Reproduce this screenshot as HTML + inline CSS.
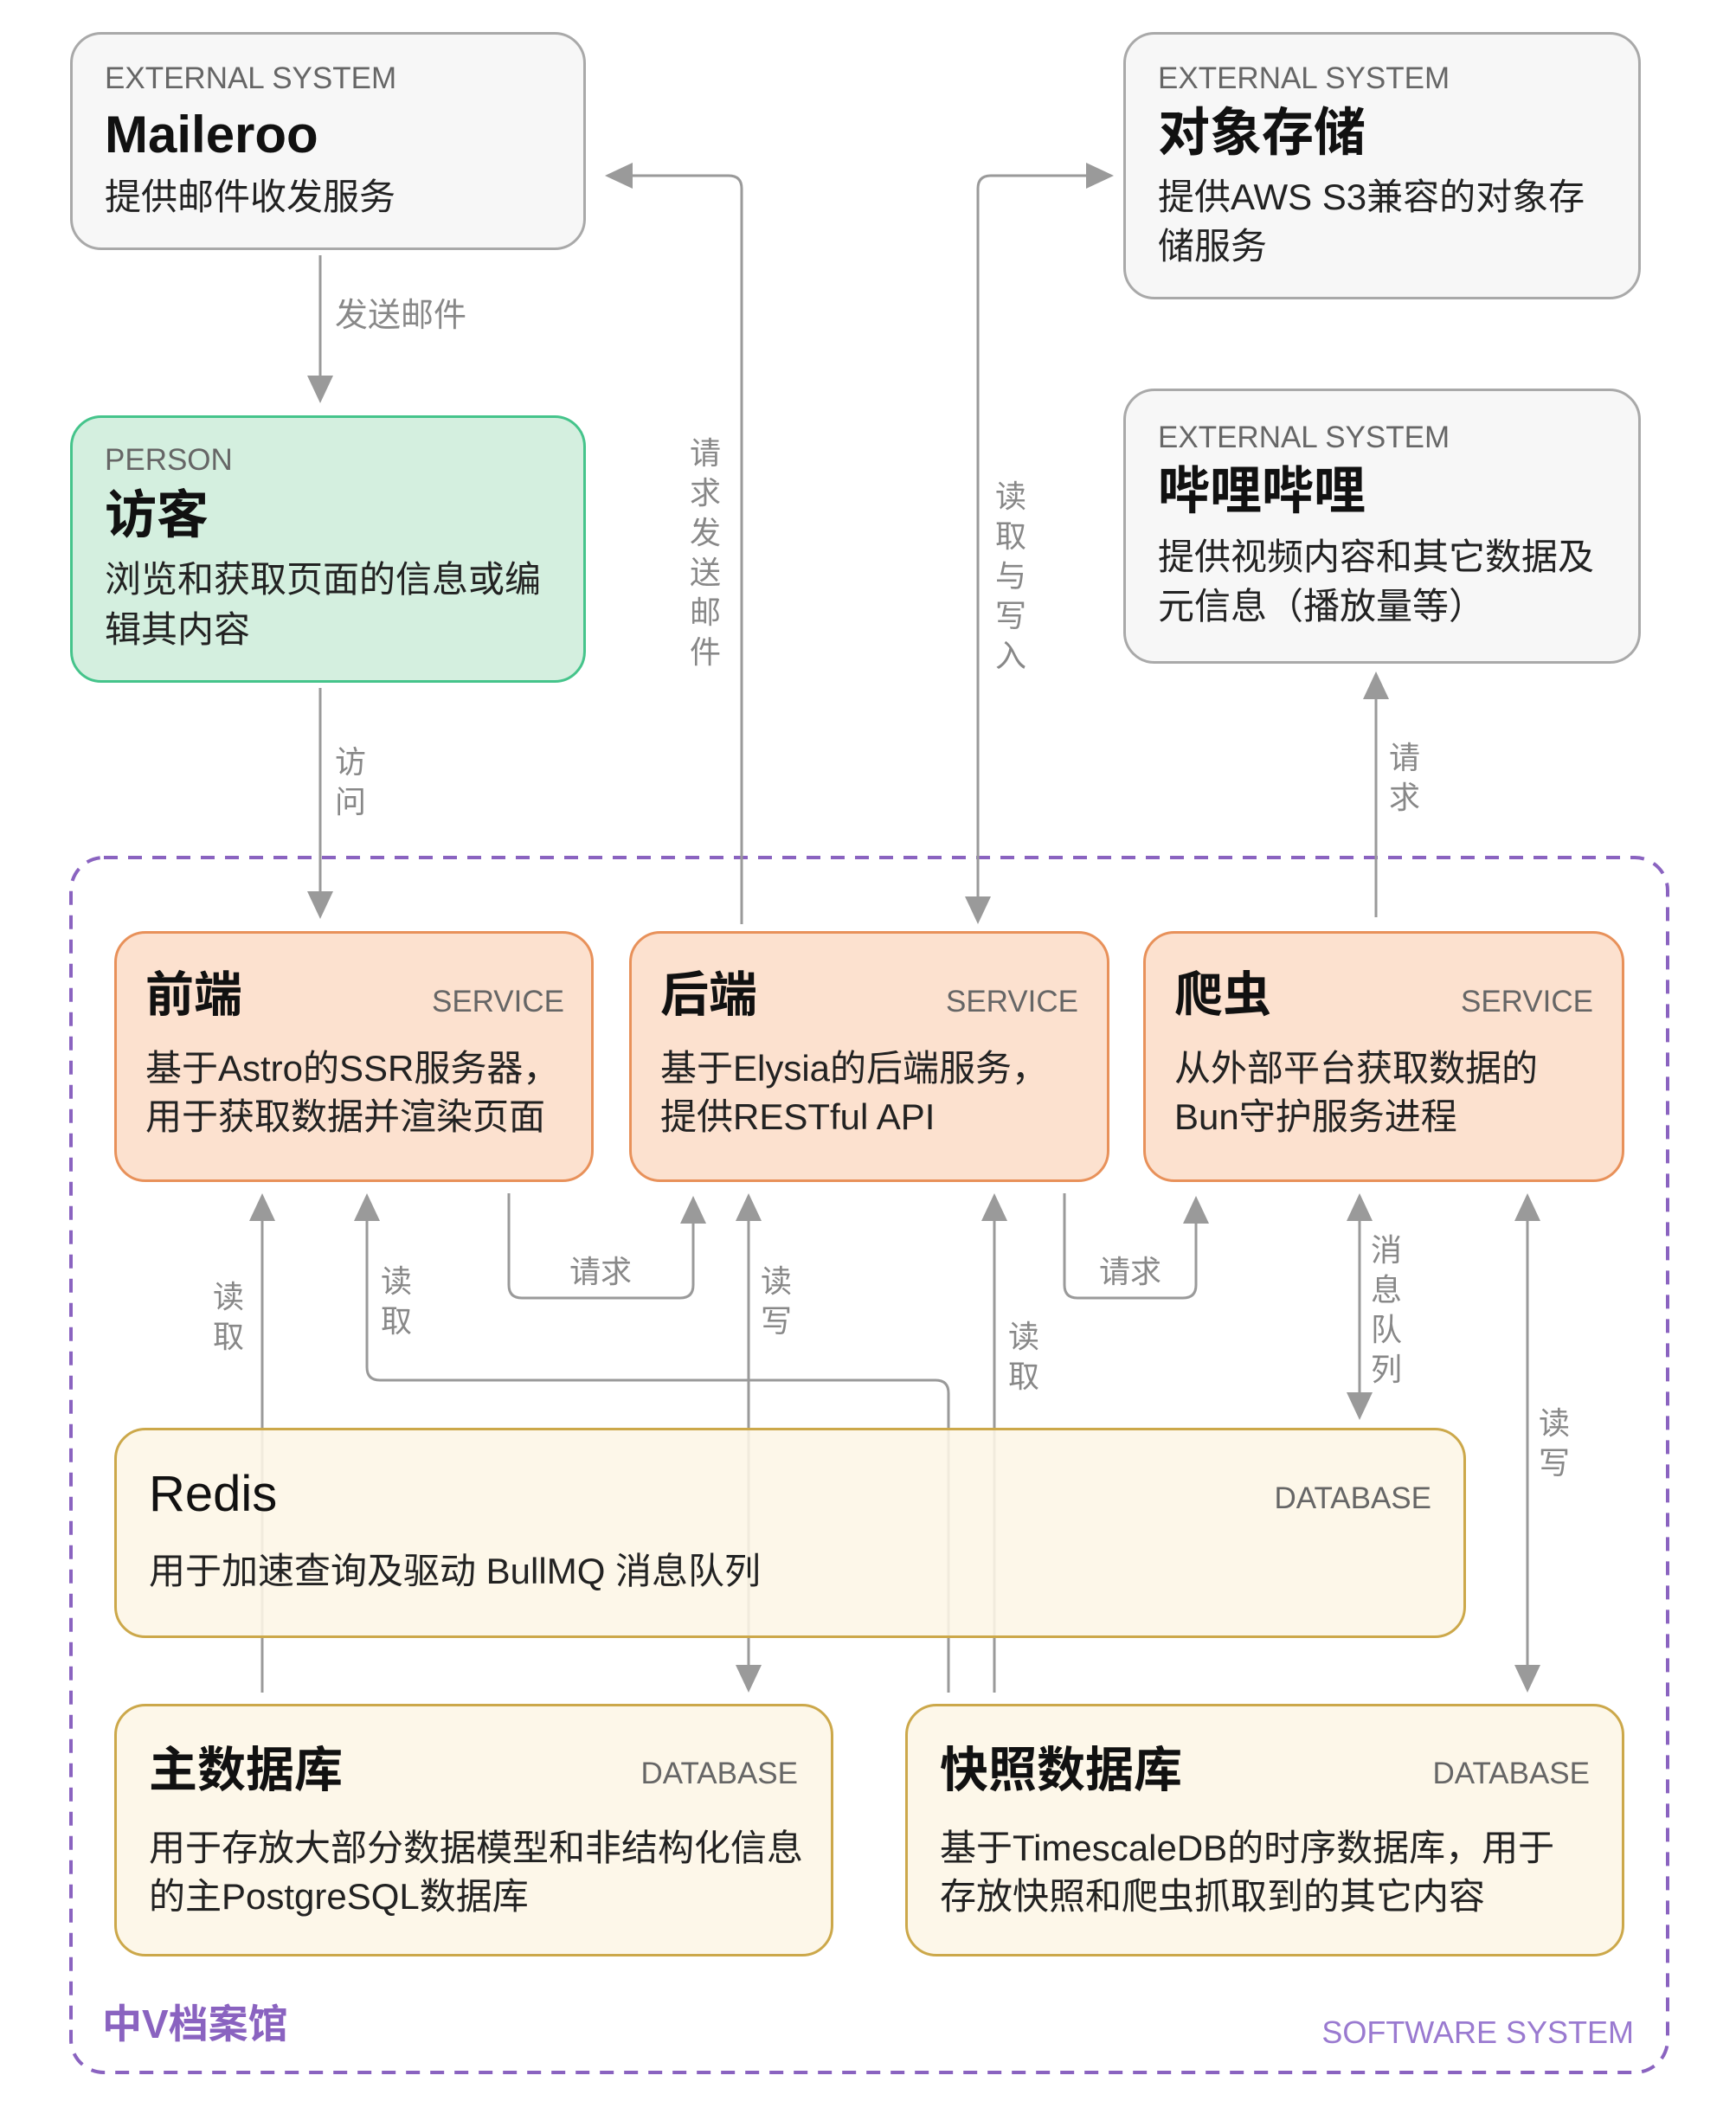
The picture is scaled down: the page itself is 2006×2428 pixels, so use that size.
<!DOCTYPE html>
<html><head><meta charset="utf-8"><style>
*{margin:0;padding:0;box-sizing:border-box}
body{width:2006px;height:2428px;background:#fff;position:relative;overflow:hidden;font-family:"Liberation Sans","Noto Sans CJK SC",sans-serif;color:#111}
.b{position:absolute;border:3px solid;border-radius:36px}
.ext{background:#f7f7f7;border-color:#a9a9a9}
.per{background:#d4efdf;border-color:#45c48b}
.svc{background:#fce1cf;border-color:#e8915a}
.db{background:rgba(253,246,230,0.88);border-color:#cca84a}
.t{position:absolute;line-height:1;white-space:nowrap}
.lab{font-size:35px;color:#666}
.ttl{font-size:60px;font-weight:bold}
.ds{font-size:42px;color:#222}
.el{font-size:36px;color:#888}
.v{position:absolute;font-size:36px;color:#888;width:40px;line-height:46px;text-align:center;white-space:normal}
</style></head><body>

<svg style="position:absolute;left:0;top:0" width="2006" height="2428">
<rect x="82" y="991" width="1845" height="1404" rx="38" fill="none" stroke="#8a63c0" stroke-width="4" stroke-dasharray="16 12"/>
<g stroke="#9a9a9a" stroke-width="3" fill="none">
<path d="M370 295V440"/>
<path d="M370 795V1034"/>
<path d="M857 1068V218Q857 203 842 203H731"/>
<path d="M1130 1036V218Q1130 203 1145 203H1255"/>
<path d="M1590 1060V808"/>
<path d="M303 1956V1411"/>
<path d="M424 1411V1580Q424 1595 439 1595H1081Q1096 1595 1096 1610V1956"/>
<path d="M588 1379V1485Q588 1500 603 1500H786Q801 1500 801 1485V1414"/>
<path d="M865 1411V1924"/>
<path d="M1149 1956V1411"/>
<path d="M1230 1379V1485Q1230 1500 1245 1500H1367Q1382 1500 1382 1485V1414"/>
<path d="M1571 1411V1609"/>
<path d="M1765 1411V1924"/>
</g>
<g fill="#9a9a9a">
<polygon points="370,466 355,434 385,434"/>
<polygon points="370,1062 355,1030 385,1030"/>
<polygon points="699,203 731,188 731,218"/>
<polygon points="1287,203 1255,188 1255,218"/>
<polygon points="1130,1068 1115,1036 1145,1036"/>
<polygon points="1590,776 1575,808 1605,808"/>
<polygon points="303,1379 288,1411 318,1411"/>
<polygon points="424,1379 409,1411 439,1411"/>
<polygon points="801,1382 786,1414 816,1414"/>
<polygon points="865,1379 850,1411 880,1411"/>
<polygon points="865,1956 850,1924 880,1924"/>
<polygon points="1149,1379 1134,1411 1164,1411"/>
<polygon points="1382,1382 1367,1414 1397,1414"/>
<polygon points="1571,1379 1556,1411 1586,1411"/>
<polygon points="1571,1641 1556,1609 1586,1609"/>
<polygon points="1765,1379 1750,1411 1780,1411"/>
<polygon points="1765,1956 1750,1924 1780,1924"/>
</g>
</svg>

<div class="b ext" style="left:81px;top:37px;width:596px;height:252px"></div>
<div class="t lab" style="left:121px;top:73px">EXTERNAL SYSTEM</div>
<div class="t ttl" style="left:121px;top:126px">Maileroo</div>
<div class="t ds" style="left:121px;top:207px">提供邮件收发服务</div>

<div class="b ext" style="left:1298px;top:37px;width:598px;height:309px"></div>
<div class="t lab" style="left:1338px;top:73px">EXTERNAL SYSTEM</div>
<div class="t ttl" style="left:1338px;top:124px">对象存储</div>
<div class="t ds" style="left:1338px;top:207px">提供AWS S3兼容的对象存</div>
<div class="t ds" style="left:1338px;top:264px">储服务</div>

<div class="b ext" style="left:1298px;top:449px;width:598px;height:318px"></div>
<div class="t lab" style="left:1338px;top:488px">EXTERNAL SYSTEM</div>
<div class="t ttl" style="left:1338px;top:538px">哔哩哔哩</div>
<div class="t ds" style="left:1338px;top:623px">提供视频内容和其它数据及</div>
<div class="t ds" style="left:1338px;top:680px">元信息（播放量等）</div>

<div class="b per" style="left:81px;top:480px;width:596px;height:309px"></div>
<div class="t lab" style="left:121px;top:514px">PERSON</div>
<div class="t ttl" style="left:121px;top:566px">访客</div>
<div class="t ds" style="left:121px;top:649px">浏览和获取页面的信息或编</div>
<div class="t ds" style="left:121px;top:707px">辑其内容</div>

<div class="b svc" style="left:132px;top:1076px;width:554px;height:290px"></div>
<div class="t ttl" style="left:168px;top:1122px;font-size:56px">前端</div>
<div class="t lab" style="right:1354px;top:1140px">SERVICE</div>
<div class="t ds" style="left:168px;top:1214px">基于Astro的SSR服务器，</div>
<div class="t ds" style="left:168px;top:1270px">用于获取数据并渲染页面</div>

<div class="b svc" style="left:727px;top:1076px;width:555px;height:290px"></div>
<div class="t ttl" style="left:763px;top:1122px;font-size:56px">后端</div>
<div class="t lab" style="right:760px;top:1140px">SERVICE</div>
<div class="t ds" style="left:763px;top:1214px">基于Elysia的后端服务，</div>
<div class="t ds" style="left:763px;top:1270px">提供RESTful API</div>

<div class="b svc" style="left:1321px;top:1076px;width:556px;height:290px"></div>
<div class="t ttl" style="left:1357px;top:1122px;font-size:56px">爬虫</div>
<div class="t lab" style="right:165px;top:1140px">SERVICE</div>
<div class="t ds" style="left:1357px;top:1214px">从外部平台获取数据的</div>
<div class="t ds" style="left:1357px;top:1270px">Bun守护服务进程</div>

<div class="b db" style="left:132px;top:1650px;width:1562px;height:243px"></div>
<div class="t ttl" style="left:172px;top:1698px;font-size:58px;font-weight:normal">Redis</div>
<div class="t lab" style="right:352px;top:1714px">DATABASE</div>
<div class="t ds" style="left:172px;top:1795px">用于加速查询及驱动 BullMQ 消息队列</div>

<div class="b db" style="left:132px;top:1969px;width:831px;height:292px"></div>
<div class="t ttl" style="left:172px;top:2018px;font-size:56px">主数据库</div>
<div class="t lab" style="right:1084px;top:2032px">DATABASE</div>
<div class="t ds" style="left:172px;top:2115px">用于存放大部分数据模型和非结构化信息</div>
<div class="t ds" style="left:172px;top:2171px">的主PostgreSQL数据库</div>

<div class="b db" style="left:1046px;top:1969px;width:831px;height:292px"></div>
<div class="t ttl" style="left:1086px;top:2018px;font-size:56px">快照数据库</div>
<div class="t lab" style="right:169px;top:2032px">DATABASE</div>
<div class="t ds" style="left:1086px;top:2115px">基于TimescaleDB的时序数据库，用于</div>
<div class="t ds" style="left:1086px;top:2171px">存放快照和爬虫抓取到的其它内容</div>

<div class="t" style="left:118px;top:2316px;font-size:46px;font-weight:bold;color:#8a63c0">中V档案馆</div>
<div class="t" style="right:118px;top:2331px;font-size:36px;color:#9a7ad0">SOFTWARE SYSTEM</div>

<div class="t el" style="left:387px;top:346px;font-size:38px">发送邮件</div>
<div class="v" style="left:385px;top:858px">访问</div>
<div class="v" style="left:795px;top:501px">请求发送邮件</div>
<div class="v" style="left:1148px;top:551px">读取与写入</div>
<div class="v" style="left:1603px;top:853px">请求</div>
<div class="v" style="left:244px;top:1476px">读取</div>
<div class="v" style="left:438px;top:1458px">读取</div>
<div class="t el" style="left:658px;top:1452px">请求</div>
<div class="v" style="left:877px;top:1458px">读写</div>
<div class="v" style="left:1163px;top:1522px">读取</div>
<div class="t el" style="left:1270px;top:1452px">请求</div>
<div class="v" style="left:1582px;top:1422px">消息队列</div>
<div class="v" style="left:1776px;top:1622px">读写</div>
</body></html>
